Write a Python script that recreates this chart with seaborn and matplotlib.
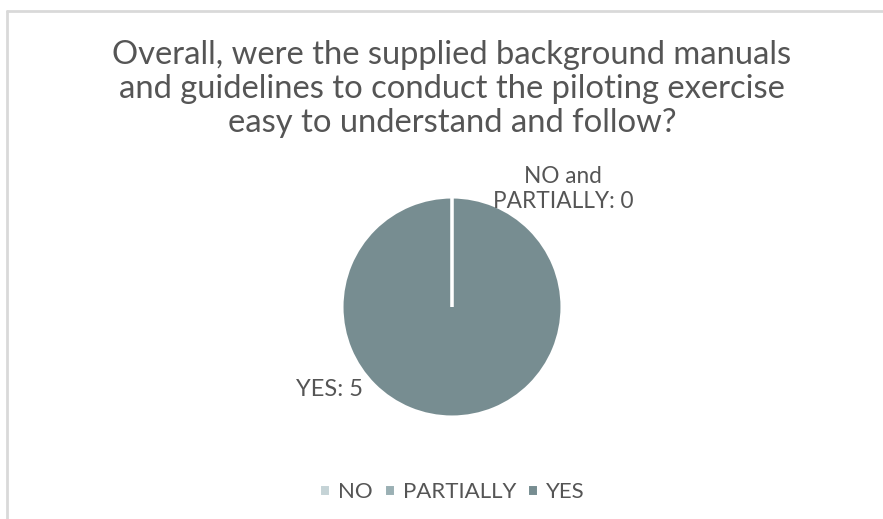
import matplotlib
matplotlib.use("Agg")
import matplotlib.pyplot as plt
import seaborn as sns
from matplotlib.lines import Line2D

# Survey answers
categories = ["NO", "PARTIALLY", "YES"]
counts = [0, 0, 5]
colors = ["#C5D3D6", "#9BB0B4", "#778D91"]
title = ("Overall, were the supplied background manuals\n"
         "and guidelines to conduct the piloting exercise\n"
         "easy to understand and follow?")

sns.set_theme(style="white")
plt.rcParams["font.family"] = ["Lato", "DejaVu Sans"]
text_color = "#555555"

W, H = 883, 519
fig = plt.figure(figsize=(W / 100, H / 100), dpi=100)
fig.patch.set_facecolor("white")

# light chart frame (top and left edges)
frame = dict(transform=fig.transFigure, color="#D9D9D9", linewidth=2)
fig.lines.append(Line2D([7 / W, 1], [1 - 11 / H, 1 - 11 / H], **frame))
fig.lines.append(Line2D([7 / W, 7 / W], [0, 1 - 11 / H], **frame))

# pie axes: centre at (452, 307) px, radius 110 px
cx, cy, r = 452, 307, 110
span = 1.8
size = 2 * span * r
ax = fig.add_axes([(cx - size / 2) / W, (H - cy - size / 2) / H, size / W, size / H])
wedges, _ = ax.pie(counts, colors=colors, startangle=90, counterclock=False,
                   radius=1.0, wedgeprops=dict(edgecolor="white", linewidth=2.2))
# empty slices sit on top so their white edge stays visible
for w, c in zip(wedges, counts):
    if c == 0:
        w.set_zorder(5)
ax.set_xlim(-span, span)
ax.set_ylim(-span, span)
ax.set_aspect("equal")
ax.axis("off")

# data labels
ax.text(111 / r, 118 / r, f"NO and\n{categories[1]}: {counts[0] + counts[1]}",
        ha="center", va="center", fontsize=16.3, color=text_color, linespacing=1.2)
ax.text(-122 / r, -82 / r, f"{categories[2]}: {counts[2]}",
        ha="center", va="center", fontsize=17, color=text_color)

fig.text(452 / W, 1 - 89 / H, title, ha="center", va="center",
         fontsize=23.6, color=text_color, linespacing=1.17)

fig.legend(wedges, categories, loc="center", bbox_to_anchor=(452 / W, 1 - 492 / H),
           ncol=3, frameon=False, fontsize=16, labelcolor=text_color,
           handlelength=0.5, handleheight=0.5, handletextpad=0.35, columnspacing=0.5)

fig.savefig("out.png", dpi=100)
